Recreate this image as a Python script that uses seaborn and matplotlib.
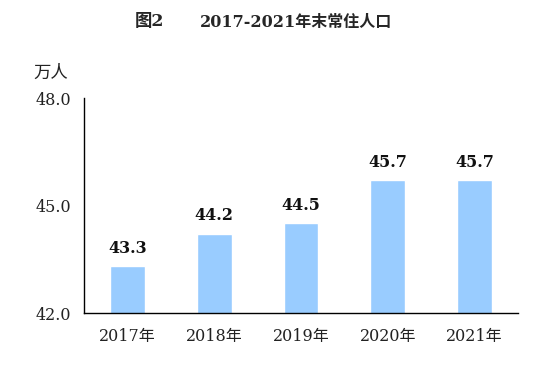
import matplotlib
matplotlib.use("Agg")
import matplotlib.pyplot as plt
import seaborn as sns
import pandas as pd
from matplotlib.ticker import FixedLocator

years = ["2017年", "2018年", "2019年", "2020年", "2021年"]
values = [43.3, 44.2, 44.5, 45.7, 45.7]
value_labels = ["43.3", "44.2", "44.5", "45.7", "45.7"]
yticks = [42.0, 45.0, 48.0]
ytick_labels = ["42.0", "45.0", "48.0"]

sns.set_theme(style="white")
FAM = ["DejaVu Serif", "Noto Sans CJK SC", "DejaVu Sans"]
plt.rcParams["font.family"] = FAM

W, H = 558, 380
fig = plt.figure(figsize=(W / 100, H / 100), dpi=100)
ax = fig.add_axes([84 / W, 1 - 313 / H, (518 - 84) / W, (313 - 98) / H])

df = pd.DataFrame({"year": years, "value": values})
sns.barplot(data=df, x="year", y="value", color="#99CCFF", saturation=1,
            width=0.4, ax=ax)

ax.set_ylim(42, 48)
ax.set_xlim(-0.5, 4.5)
ax.set_yticks(yticks)
ax.set_yticklabels(ytick_labels, fontsize=11.5, color="#222222")
ax.set_xlabel("")
ax.set_ylabel("")
ax.tick_params(axis="y", direction="in", length=6, width=1, color="black", pad=9)
ax.tick_params(axis="x", which="major", length=0, pad=11, labelsize=11.5, labelcolor="#222222")
ax.xaxis.set_minor_locator(FixedLocator([0.5, 1.5, 2.5, 3.5, 4.5]))
ax.tick_params(axis="x", which="minor", direction="in", length=8, width=1, color="black")

for s in ["top", "right"]:
    ax.spines[s].set_visible(False)
for s in ["left", "bottom"]:
    ax.spines[s].set_color("black")
    ax.spines[s].set_linewidth(1)

for i, (v, lab) in enumerate(zip(values, value_labels)):
    ax.annotate(lab, (i, v), xytext=(0, 10), textcoords="offset points",
                ha="center", va="baseline", fontsize=11.5, fontweight="bold", color="#111111")

fig.text(135 / W, 1 - 22 / H, "图2", ha="left", va="center", fontsize=12.5, fontweight="bold", family=FAM)
fig.text(200 / W, 1 - 22 / H, "2017-2021年末常住人口", ha="left", va="center",
         fontsize=11.5, fontweight="bold", family=FAM)
fig.text(33 / W, 1 - 73 / H, "万人", ha="left", va="center", fontsize=12.5, family=FAM, color="#222222")

fig.savefig("out.png", dpi=100, facecolor="white")
